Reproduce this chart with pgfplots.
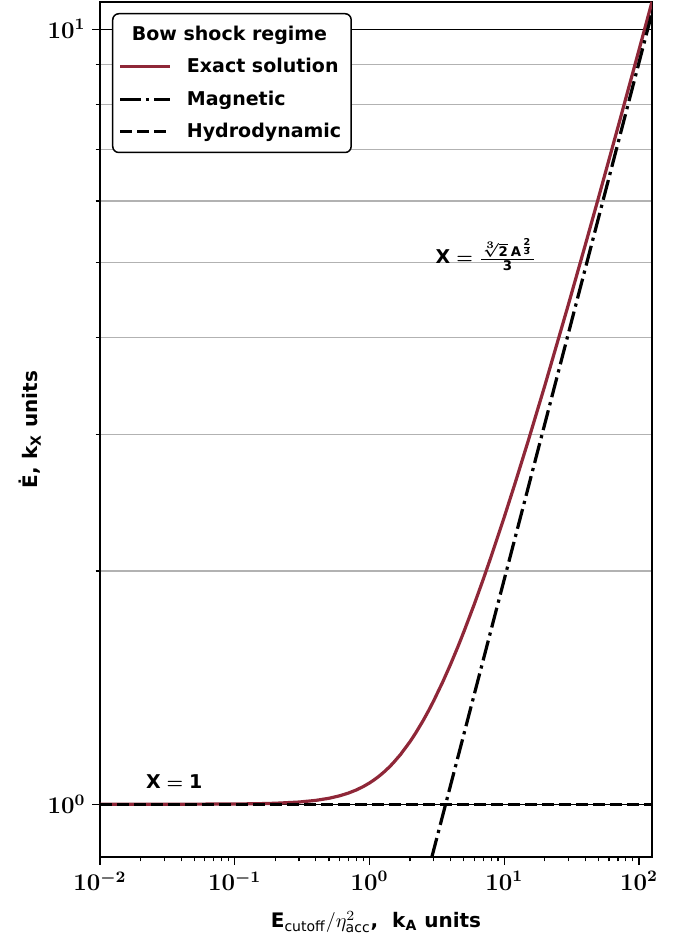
\documentclass[border=0pt]{standalone}
\usepackage{fontspec}
\setmainfont{DejaVu Sans}
\usepackage{amsmath}
\usepackage{pgfplots}
\pgfplotsset{compat=1.18}
\definecolor{exactred}{RGB}{143,39,56}

\begin{document}
\begin{tikzpicture}
\begin{axis}[
    scale only axis,
    width=276pt, height=427.5pt,
    xmode=log, ymode=log,
    xmin=0.01, xmax=125,
    ymin=0.855, ymax=10.84,
    axis line style={line width=0.9pt},
    tick align=outside, tick pos=left,
    major tick length=3.8pt, minor tick length=2.2pt,
    every tick/.style={black, line width=0.6pt},
    xtick={0.01,0.1,1,10,100},
    xticklabels={$\mathbf{10^{-2}}$,$\mathbf{10^{-1}}$,$\mathbf{10^{0}}$,$\mathbf{10^{1}}$,$\mathbf{10^{2}}$},
    ytick={1,10},
    yticklabels={$\mathbf{10^{0}}$,$\mathbf{10^{1}}$},
    ymajorgrids, yminorgrids,
    major grid style={black, line width=0.6pt},
    minor grid style={black!30, line width=0.7pt},
    ticklabel style={font=\fontsize{11.5}{13}\selectfont\boldmath},
    label style={font=\fontsize{10}{12}\selectfont\bfseries},
    xlabel={E$_{\text{\mdseries cutoff}}/\eta^{2}_{\text{\mdseries acc}}$,\ \ k$_{\text{A}}$ units},
    ylabel={Ė,\ k$_{\text{X}}$ units},
    xlabel style={at={(axis description cs:0.5,-0.0825)}, anchor=base},
    ylabel style={at={(axis description cs:-0.1268,0.5)}, anchor=center},
    legend cell align=left,
    legend image code/.code={\draw[#1] (0pt,0pt) -- (25pt,0pt);},
    legend style={at={(axis description cs:0,1)}, anchor=north west,
        xshift=6pt, yshift=-5.5pt, draw=black, line width=0.75pt,
        rounded corners=3pt, inner xsep=3pt, inner ysep=4pt,
        font=\fontsize{9.5}{11}\selectfont\bfseries,
        row sep=3.5pt,
        nodes={inner sep=2pt},
        /tikz/every odd column/.append style={column sep=5.5pt}},
]
\addlegendimage{empty legend}
\addlegendentry{\hspace{-27.5pt}Bow shock regime}

\addplot[exactred, line width=1.6pt] coordinates {
    (0.01,1.0000074) (0.03,1.0000667) (0.1,1.00074) (0.15,1.00166)
    (0.2,1.00295) (0.3,1.00658) (0.4,1.01158) (0.5,1.01788)
    (0.6,1.02537) (0.7,1.03395) (0.8,1.04354) (0.9,1.05401)
    (1,1.06527) (1.1,1.07724) (1.2,1.08982) (1.3,1.10292)
    (1.4,1.11646) (1.5,1.13043) (1.7,1.15929) (2,1.20429)
    (2.2,1.23505) (2.5,1.28178) (2.75,1.32101) (3,1.36029)
    (3.5,1.43851) (4,1.51582) (4.5,1.59191) (5,1.66667)
    (6,1.81209) (7,1.95229) (8,2.0877) (10,2.34595)
    (12,2.59005) (15,2.93491) (20,3.46618) (30,4.41701)
    (40,5.26901) (50,6.05350) (70,7.48264) (100,9.39394)
    (125,10.8435)
};
\addlegendentry{Exact solution}

\addplot[black, line width=1.6pt, dash pattern=on 10.2pt off 2.6pt on 1.6pt off 2.6pt] coordinates {
    (2.5,0.7737) (10,1.94934) (50,5.6999) (125,10.4992)
};
\addlegendentry{Magnetic}

\addplot[black, line width=1.6pt, dash pattern=on 5.9pt off 2.6pt] coordinates {
    (0.01,1) (125,1)
};
\addlegendentry{Hydrodynamic}

\node[anchor=base west, font=\fontsize{9.5}{11}\selectfont\bfseries\boldmath]
    at (axis cs:0.0195,1.049) {$\text{X} = \text{1}$};
\node[anchor=west, font=\fontsize{9.5}{11}\selectfont\bfseries\boldmath]
    at (axis cs:2.75,5.12)
    {$\text{X} = \frac{\sqrt[3]{\text{2}}\,\text{A}^{\frac{\text{2}}{\text{3}}}}{\text{3}}$};
\end{axis}
\pgfresetboundingbox
\path[use as bounding box] ([xshift=-50pt,yshift=-39.5pt]current axis.south west)
    rectangle ([xshift=15.5pt,yshift=1pt]current axis.north east);
\end{tikzpicture}
\end{document}
